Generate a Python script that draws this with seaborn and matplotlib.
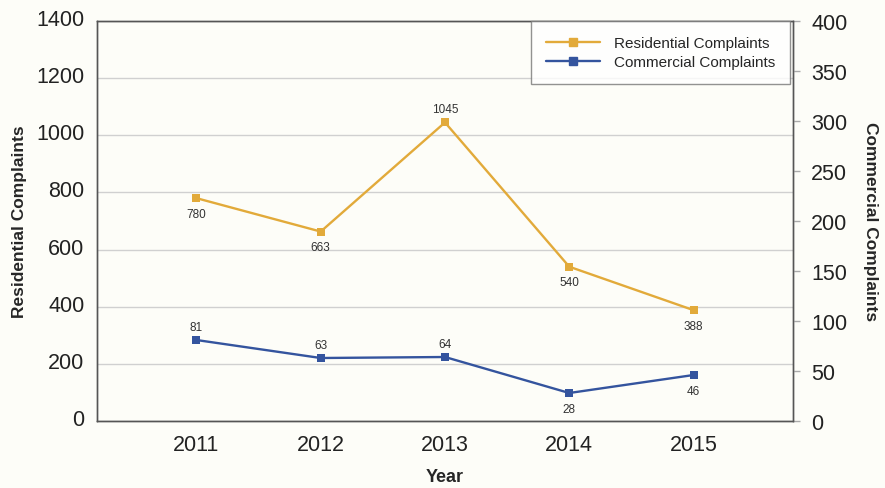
import matplotlib
matplotlib.use("Agg")
import matplotlib.pyplot as plt
import matplotlib.transforms as mtransforms
import seaborn as sns
import pandas as pd
from matplotlib.lines import Line2D

years = ["2011", "2012", "2013", "2014", "2015"]
residential = [780, 663, 1045, 540, 388]
commercial = [81, 63, 64, 28, 46]
residential_label_above = [False, False, True, False, False]
commercial_label_above = [True, True, True, False, False]

res_color = "#E2AA3A"
com_color = "#34549E"
bg = "#FDFDF8"
text_color = "#222222"

sns.set_theme(style="white")
plt.rcParams["font.family"] = ["Liberation Sans", "DejaVu Sans"]

df = pd.DataFrame({"x": range(len(years)), "Year": years,
                   "Residential": residential, "Commercial": commercial})

fig = plt.figure(figsize=(8.85, 4.89), dpi=100, facecolor=bg)
ax = fig.add_axes([0.1096, 0.137, 0.7864, 0.818])
ax.set_facecolor(bg)
ax2 = ax.twinx()

line_kw = dict(marker="s", markersize=5.5, markeredgewidth=0, linewidth=1.7)
sns.lineplot(data=df, x="x", y="Residential", ax=ax, color=res_color, **line_kw)
sns.lineplot(data=df, x="x", y="Commercial", ax=ax2, color=com_color, **line_kw)

ax.set_xlim(-0.8, 4.8)
ax.set_ylim(0, 1400)
ax2.set_ylim(0, 400)
ax.set_yticks(range(0, 1401, 200))
ax2.set_yticks(range(0, 401, 50))
ax.set_xticks(df["x"])
ax.set_xticklabels(years)

ax.grid(axis="y", color="#D0D0D0", linewidth=1)
ax.grid(axis="x", visible=False)
ax2.grid(False)

for sp in list(ax.spines.values()) + list(ax2.spines.values()):
    sp.set_color("#555555")
    sp.set_linewidth(1)

ax.tick_params(axis="y", length=0, pad=9, labelsize=15.5, labelcolor=text_color)
ax.tick_params(axis="x", length=0, pad=9, labelsize=15.5, labelcolor=text_color)
ax2.tick_params(axis="y", length=5, width=1, color="#AAAAAA", pad=8,
                labelsize=15.5, labelcolor=text_color)

# nudge left tick labels slightly upward
shift = mtransforms.ScaledTranslation(0, 4 / 100, fig.dpi_scale_trans)
for lbl in ax.get_yticklabels():
    lbl.set_transform(lbl.get_transform() + shift)

ax.set_xlabel("Year", fontsize=13, fontweight="bold", labelpad=10)
ax.set_ylabel("Residential Complaints", fontsize=12.5, fontweight="bold", labelpad=7)
ax2.set_ylabel("Commercial Complaints", fontsize=12.5, fontweight="bold",
               rotation=270, labelpad=22)

def label_point(axis, i, v, above):
    if above:
        axis.annotate(str(v), (i, v), xytext=(0, 5), textcoords="offset points",
                      ha="center", va="bottom", fontsize=8.5, color="#333333")
    else:
        axis.annotate(str(v), (i, v), xytext=(0, -7), textcoords="offset points",
                      ha="center", va="top", fontsize=8.5, color="#333333")

for i, v in enumerate(residential):
    label_point(ax, i, v, residential_label_above[i])
for i, v in enumerate(commercial):
    label_point(ax2, i, v, commercial_label_above[i])

handles = [Line2D([], [], color=res_color, marker="s", markersize=5.5, linewidth=1.7),
           Line2D([], [], color=com_color, marker="s", markersize=5.5, linewidth=1.7)]
leg = ax2.legend(handles, ["Residential Complaints", "Commercial Complaints"],
                 loc="upper right", fontsize=11, frameon=True, fancybox=False,
                 borderpad=1.0, labelspacing=0.3, handlelength=3.5,
                 handletextpad=0.9, borderaxespad=0,
                 bbox_to_anchor=(0.996, 1.0))
leg.get_frame().set_edgecolor("#777777")
leg.get_frame().set_linewidth(1)
leg.get_frame().set_facecolor("white")

fig.savefig("out.png", dpi=100, facecolor=bg)
